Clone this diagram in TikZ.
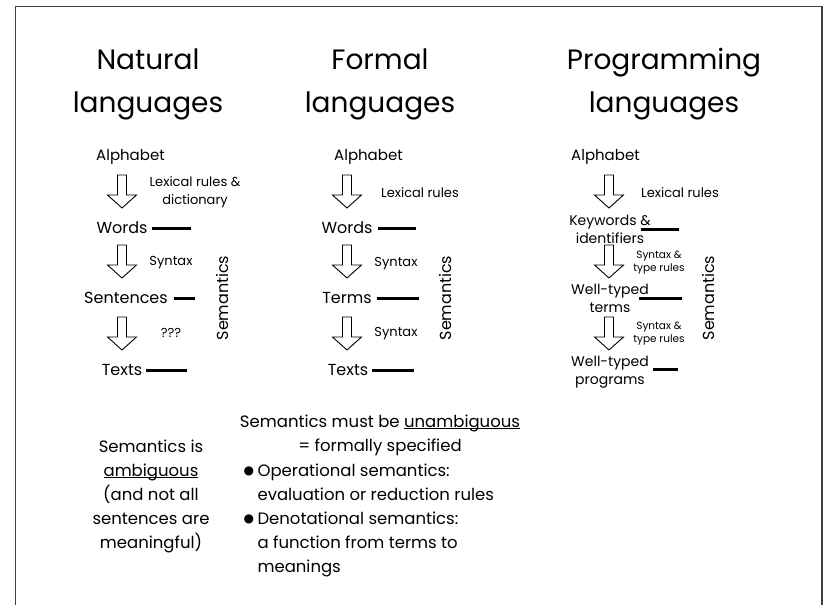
\documentclass[tikz,border=0pt]{standalone}
\usepackage{fontspec}
\setmainfont{Poppins}
\newfontfamily\symfont{DejaVu Sans}
\usetikzlibrary{positioning}

\newcommand\ulword[1]{\underline{\smash{#1}}}
\newcommand\bigdot{\llap{\raisebox{1.8pt}{\symfont\fontsize{12}{24}\selectfont ●}\hspace{3.5pt}}}

\tikzset{
  heading/.style={font=\fontsize{28}{43}\selectfont, align=center},
  term/.style={font=\fontsize{16}{19}\selectfont, align=center, inner sep=2pt},
  longterm/.style={font=\fontsize{14}{18}\selectfont, align=center, inner sep=2pt},
  ruletext/.style={font=\fontsize{13}{18}\selectfont, align=center, inner sep=0pt},
  smallrule/.style={font=\fontsize{10.5}{13}\selectfont, align=center, inner sep=0pt},
  semline/.style={line width=3pt},
  semlabel/.style={font=\fontsize{16}{19}\selectfont, rotate=90},
  body/.style={font=\fontsize{16.5}{24}\selectfont, align=center},
  hollowarrow/.pic={\draw[line width=0.9pt] (-4.5,0) -- (-4.5,20) -- (-14.5,20) -- (0,33) -- (14.5,20) -- (4.5,20) -- (4.5,0) -- cycle;}
}

\begin{document}
\begin{tikzpicture}[x=1pt,y=-1pt]
  \useasboundingbox (0,0) rectangle (823,605);
  \draw[black!75, line width=1.3pt] (15.5,605) -- (15.5,6.5) -- (822,6.5) -- (822,605);

  % headings
  \node[heading] (natural) at (148,84) {Natural\\languages};
  \node[heading] (formal) at (380,84) {Formal\\languages};
  \node[heading] (programming) at (664,84) {Programming\\languages};

  % natural languages
  \node[term, font=\fontsize{15}{19}\selectfont, anchor=west] (alpha1) at (94,157) {Alphabet};
  \node[term] (words1) at (122,228) {Words};
  \node[term] (sent1) at (126,298) {Sentences};
  \node[term] (texts1) at (122,370) {Texts};
  \pic at (122,175) {hollowarrow};
  \pic at (122,245) {hollowarrow};
  \pic at (122,317) {hollowarrow};
  \node[ruletext] (lex1) at (195,192) {Lexical rules \&\\dictionary};
  \node[ruletext] (syn1) at (171,263) {Syntax};
  \node[ruletext] (unk1) at (171,333) {???};
  \node[semlabel] (sem1) at (222,298) {Semantics};
  \draw[semline] ([xshift=2pt]words1.east) -- ++(39,0);
  \draw[semline] ([xshift=4pt]sent1.east) -- ++(21,0);
  \draw[semline] ([xshift=2pt]texts1.east) -- ++(41,0);

  % formal languages
  \node[term, font=\fontsize{15}{19}\selectfont, anchor=west] (alpha2) at (332,157) {Alphabet};
  \node[term] (words2) at (347,228) {Words};
  \node[term] (terms2) at (347,298) {Terms};
  \node[term] (texts2) at (348,370) {Texts};
  \pic at (347,175) {hollowarrow};
  \pic at (347,245) {hollowarrow};
  \pic at (347,317) {hollowarrow};
  \node[ruletext] (lex2) at (420,193) {Lexical rules};
  \node[ruletext] (syn2) at (396,264) {Syntax};
  \node[ruletext] (syn2b) at (396,334) {Syntax};
  \node[semlabel] (sem2) at (445,298) {Semantics};
  \draw[semline] ([xshift=3pt]words2.east) -- ++(38,0);
  \draw[semline] ([xshift=3pt]terms2.east) -- ++(42,0);
  \draw[semline] ([xshift=2pt]texts2.east) -- ++(42,0);

  % programming languages
  \node[term, font=\fontsize{15}{19}\selectfont, anchor=west] (alpha3) at (569,157) {Alphabet};
  \node[longterm] (kw3) at (610,229) {Keywords \&\\identifiers};
  \node[longterm] (wt3) at (610,298) {Well-typed\\terms};
  \node[longterm] (prog3) at (610,372) {Well-typed\\programs};
  \pic at (609,175) {hollowarrow};
  \pic at (609,245) {hollowarrow};
  \pic at (609,317) {hollowarrow};
  \node[ruletext] (lex3) at (680,193) {Lexical rules};
  \node[smallrule] (syn3) at (659,263) {Syntax \&\\type rules};
  \node[smallrule] (syn3b) at (659,334) {Syntax \&\\type rules};
  \node[semlabel] (sem3) at (708,298) {Semantics};
  \draw[semline] ([xshift=-12pt]kw3.east) -- ++(38,0);
  \draw[semline] ([xshift=-12pt]wt3.east) -- ++(43,0);
  \draw[semline] ([xshift=2pt,yshift=3pt]prog3.east) -- ++(25,0);

  % bottom remarks
  \node[body] (ambig) at (151,496) {Semantics is\\\ulword{ambiguous}\\(and not all\\sentences are\\meaningful)};
  \node[body] (must) at (380,435) {Semantics must be \ulword{unambiguous}\\= formally specified};
  \node[body, align=left, anchor=west] (kinds) at (254,520) {\bigdot Operational semantics:\\evaluation or reduction rules\\\bigdot Denotational semantics:\\a function from terms to\\meanings};
\end{tikzpicture}
\end{document}
